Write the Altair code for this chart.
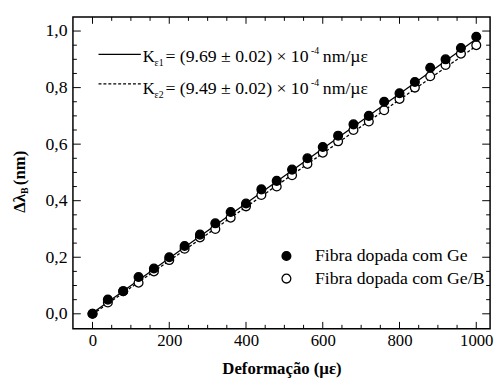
import altair as alt
import pandas as pd

# ---- data ----
strain = [0, 40, 80, 120, 160, 200, 240, 280, 320, 360, 400, 440, 480,
          520, 560, 600, 640, 680, 720, 760, 800, 840, 880, 920, 960, 1000]
ge = [0.00, 0.05, 0.08, 0.13, 0.16, 0.20, 0.24, 0.28, 0.32, 0.36, 0.39, 0.44, 0.47,
      0.51, 0.55, 0.59, 0.63, 0.67, 0.70, 0.75, 0.78, 0.82, 0.87, 0.90, 0.94, 0.98]
geb = [0.00, 0.04, 0.08, 0.11, 0.15, 0.19, 0.23, 0.27, 0.30, 0.34, 0.38, 0.42, 0.45,
       0.49, 0.53, 0.57, 0.61, 0.65, 0.68, 0.72, 0.76, 0.80, 0.84, 0.88, 0.92, 0.95]
fit_x = [0, 1000]
fit_ge = [0.003, 0.972]
fit_geb = [-0.002, 0.947]
series_names = ["Fibra dopada com Ge", "Fibra dopada com Ge/B"]

x_major = [0, 200, 400, 600, 800, 1000]
x_minor = [50, 100, 150, 250, 300, 350, 450, 500, 550, 650, 700, 750, 850, 900, 950]
y_major = [0.0, 0.2, 0.4, 0.6, 0.8, 1.0]
y_minor = [0.05, 0.1, 0.15, 0.25, 0.3, 0.35, 0.45, 0.5, 0.55, 0.65, 0.7, 0.75,
           0.85, 0.9, 0.95]

W, H = 424, 317
FONT = "Liberation Serif, Times New Roman, serif"

xs = alt.Scale(domain=[-51, 1036], nice=False, zero=False)
ys = alt.Scale(domain=[-0.053, 1.05], nice=False, zero=False)

pts = pd.concat([
    pd.DataFrame({"x": strain, "y": geb, "s": series_names[1]}),
    pd.DataFrame({"x": strain, "y": ge, "s": series_names[0]}),
])
fit1 = pd.DataFrame({"x": fit_x, "y": fit_ge})
fit2 = pd.DataFrame({"x": fit_x, "y": fit_geb})

xaxis = alt.Axis(values=x_major, format="d", ticks=False, tickSize=0, domain=False, grid=False,
                 labelFont=FONT, labelFontSize=17, labelColor="black", labelPadding=4,
                 title="Deformação (µε)", titleFont=FONT, titleFontSize=17,
                 titleFontWeight="bold", titleColor="black", titlePadding=12)
yaxis = alt.Axis(values=y_major, ticks=False, tickSize=0, domain=False, grid=False,
                 labelFont=FONT, labelFontSize=18, labelColor="black", labelPadding=6,
                 labelExpr="replace(format(datum.value, '.1f'), '.', ',')", title=None)

X = lambda f: alt.X(f, scale=xs, axis=xaxis)
Y = lambda f: alt.Y(f, scale=ys, axis=yaxis)

line1 = alt.Chart(fit1).mark_line(color="black", strokeWidth=1.3).encode(x=X("x:Q"), y=Y("y:Q"))
line2 = alt.Chart(fit2).mark_line(color="black", strokeWidth=1.3, strokeDash=[3, 2]).encode(
    x=X("x:Q"), y=Y("y:Q"))

points = alt.Chart(pts).mark_circle(size=80, stroke="black", strokeWidth=1.3, opacity=1).encode(
    x=X("x:Q"),
    y=Y("y:Q"),
    fill=alt.Fill("s:N", scale=alt.Scale(domain=series_names, range=["black", "white"]),
                  legend=alt.Legend(title=None, orient="none", legendX=208, legendY=234,
                                    labelFont=FONT, labelFontSize=18, labelColor="black",
                                    symbolType="circle", symbolSize=80,
                                    symbolStrokeColor="black", symbolStrokeWidth=1.3,
                                    symbolOpacity=1, labelOffset=20, rowPadding=5,
                                    padding=0, labelLimit=300)),
)

def xticks(vals, L):
    d = pd.DataFrame({"x": vals})
    b = alt.Chart(d).mark_rule(color="black", strokeWidth=1)
    return [
        b.encode(x=X("x:Q"), y=alt.value(H), y2=alt.value(H - L)),
        b.encode(x=X("x:Q"), y=alt.value(0), y2=alt.value(L)),
    ]

def yticks(vals, L):
    d = pd.DataFrame({"y": vals})
    b = alt.Chart(d).mark_rule(color="black", strokeWidth=1)
    return [
        b.encode(y=Y("y:Q"), x=alt.value(0), x2=alt.value(L)),
        b.encode(y=Y("y:Q"), x=alt.value(W), x2=alt.value(W - L)),
    ]

ticks = xticks(x_major, 7) + xticks(x_minor, 4) + yticks(y_major, 8) + yticks(y_minor, 4)

def txt(t, x, y, size, weight="normal", angle=0, align="left", baseline="alphabetic"):
    return alt.Chart(pd.DataFrame({"t": [t]})).mark_text(
        font=FONT, fontSize=size, fontWeight=weight, color="black", angle=angle,
        align=align, baseline=baseline).encode(
        text="t:N", x=alt.value(x), y=alt.value(y))

# fit-line key
key = [
    alt.Chart(pd.DataFrame({"k": [1]})).mark_rule(color="black", strokeWidth=1.3).encode(
        x=alt.value(26), x2=alt.value(69), y=alt.value(38)),
    alt.Chart(pd.DataFrame({"k": [1]})).mark_rule(color="black", strokeWidth=1.3,
                                                   strokeDash=[3, 2]).encode(
        x=alt.value(26), x2=alt.value(69), y=alt.value(68)),
]
for dy, sub, val in [(0, "ε1", "= (9.69 ± 0.02) × 10"), (32, "ε2", "= (9.49 ± 0.02) × 10")]:
    key += [
        txt("K", 71, 46 + dy, 17),
        txt(sub, 83, 50 + dy, 10),
        txt(val, 94, 46 + dy, 18),
        txt("-4", 242, 38 + dy, 10),
        txt("nm/µε", 254, 46 + dy, 18),
    ]

# y title with subscript
ytitle = [
    txt("Δλ", -49, 199, 17, "bold", 270),
    txt("B", -46, 180, 10, "bold", 270),
    txt("(nm)", -49, 171, 17, "bold", 270),
]

chart = alt.layer(line1, line2, points, *ticks, *key, *ytitle).properties(
    width=W, height=H,
    autosize=alt.AutoSizeParams(type="none"),
    padding={"left": 66, "top": 6, "right": 5, "bottom": 49},
    background="white",
).configure_view(stroke="black", strokeWidth=1.5)

chart.save("out.html", embed_options={"renderer": "svg", "actions": False})
